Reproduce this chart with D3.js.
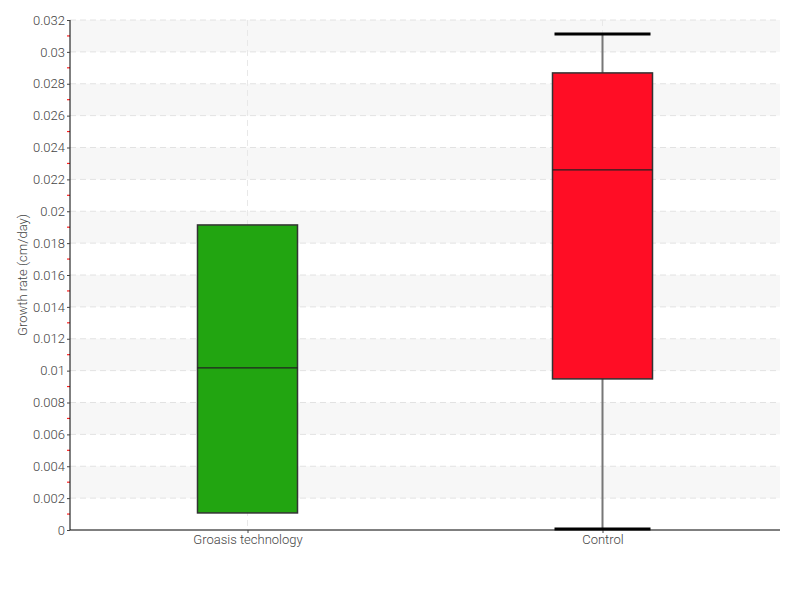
<!DOCTYPE html>
<html><head><meta charset="utf-8">
<script src="https://cdn.jsdelivr.net/npm/d3@7/dist/d3.min.js"></script>
<style>body{margin:0;background:#fff}text{font-family:Roboto,sans-serif;font-weight:300}</style>
</head><body><svg id="c" width="800" height="600"></svg>
<script>
const categories = ["Groasis technology", "Control"];
const q1 = [0.00107, 0.00948];
const medians = [0.01017, 0.02259];
const q3 = [0.01914, 0.02868];
const whiskerLow = [0.00107, 0.00006];
const whiskerHigh = [0.01914, 0.03112];
const colors = ["#22a511", "#ff0d25"];
const yTicks = [0,0.002,0.004,0.006,0.008,0.01,0.012,0.014,0.016,0.018,0.02,0.022,0.024,0.026,0.028,0.03,0.032];

const svg = d3.select("#c");
const L=70,R=780,T=20,B=530;
const y = d3.scaleLinear().domain([0,0.032]).range([B,T]);
const x = d3.scalePoint().domain(categories).range([L,R]).padding(0.5);

for (let i=0;i<yTicks.length-1;i++){
  if (i%2===1) svg.append("rect").attr("x",L).attr("width",R-L)
    .attr("y",y(yTicks[i+1])).attr("height",y(yTicks[i])-y(yTicks[i+1])).attr("fill","#f7f7f7");
}
svg.append("g").selectAll("line").data(yTicks.slice(1)).join("line")
  .attr("x1",L).attr("x2",R).attr("y1",d=>y(d)).attr("y2",d=>y(d))
  .attr("stroke","#e2e2e2").attr("stroke-dasharray","6,4");
svg.append("g").selectAll("line").data(categories).join("line")
  .attr("x1",d=>x(d)).attr("x2",d=>x(d)).attr("y1",T).attr("y2",B)
  .attr("stroke","#e8e8e8").attr("stroke-dasharray","6,4");

const minor = d3.range(0.001,0.032,0.002);
svg.append("g").selectAll("line").data(minor).join("line")
  .attr("x1",L-3).attr("x2",L).attr("y1",d=>y(d)).attr("y2",d=>y(d))
  .attr("stroke","#ff2020").attr("stroke-width",1.2);

const ya = svg.append("g").attr("transform",`translate(${L},0)`)
  .call(d3.axisLeft(y).tickValues(yTicks).tickSize(3).tickPadding(2).tickFormat(d=>String(+d.toFixed(3))));
ya.select(".domain").attr("stroke","#000").attr("d",`M0,${T}V${B}`);
ya.selectAll(".tick line").attr("stroke","#444");
ya.selectAll("text").attr("font-size",13).attr("fill","#444");

const xa = svg.append("g").attr("transform",`translate(0,${B})`)
  .call(d3.axisBottom(x).tickSize(3).tickPadding(2));
xa.select(".domain").attr("stroke","#000").attr("d",`M${L},0H${R}`);
xa.selectAll(".tick line").attr("stroke","#444");
xa.selectAll("text").attr("font-size",13).attr("fill","#444");

svg.append("text").attr("transform","translate(27,275) rotate(-90)")
  .attr("text-anchor","middle").attr("font-size",13).attr("fill","#444").text("Growth rate (cm/day)");

const bw = 100, cw = 96;
categories.forEach((c,i)=>{
  const cx = x(c);
  const g = svg.append("g");
  g.append("line").attr("x1",cx).attr("x2",cx).attr("y1",y(whiskerHigh[i])).attr("y2",y(whiskerLow[i]))
    .attr("stroke","#777").attr("stroke-width",2);
  g.append("rect").attr("x",cx-bw/2).attr("width",bw).attr("y",y(q3[i])).attr("height",y(q1[i])-y(q3[i]))
    .attr("fill",colors[i]).attr("stroke","#333").attr("stroke-width",1.5);
  g.append("line").attr("x1",cx-bw/2).attr("x2",cx+bw/2).attr("y1",y(medians[i])).attr("y2",y(medians[i]))
    .attr("stroke","#222").attr("stroke-width",1.2);
  if (whiskerHigh[i]>q3[i]) g.append("line").attr("x1",cx-cw/2).attr("x2",cx+cw/2)
    .attr("y1",y(whiskerHigh[i])).attr("y2",y(whiskerHigh[i])).attr("stroke","#000").attr("stroke-width",3);
  if (whiskerLow[i]<q1[i]) g.append("line").attr("x1",cx-cw/2).attr("x2",cx+cw/2)
    .attr("y1",y(whiskerLow[i])).attr("y2",y(whiskerLow[i])).attr("stroke","#000").attr("stroke-width",3);
});
</script></body></html>
